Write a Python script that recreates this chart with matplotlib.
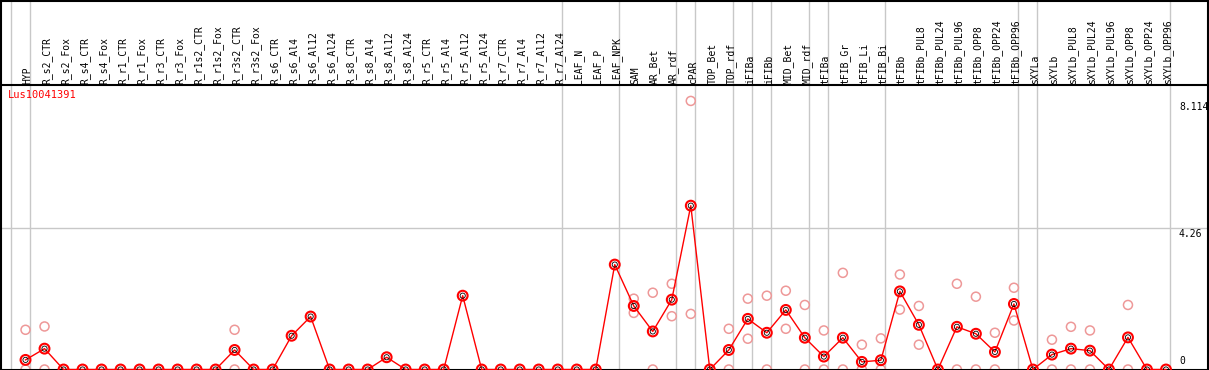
import numpy as np
import matplotlib
matplotlib.use("Agg")
import matplotlib.pyplot as plt

gene = "Lus10041391"

samples = ["HYP", "R_s2_CTR", "R_s2_Fox", "R_s4_CTR", "R_s4_Fox", "R_r1_CTR", "R_r1_Fox",
           "R_r3_CTR", "R_r3_Fox", "R_r1s2_CTR", "R_r1s2_Fox", "R_r3s2_CTR", "R_r3s2_Fox",
           "R_s6_CTR", "R_s6_Al4", "R_s6_Al12", "R_s6_Al24", "R_s8_CTR", "R_s8_Al4",
           "R_s8_Al12", "R_s8_Al24", "R_r5_CTR", "R_r5_Al4", "R_r5_Al12", "R_r5_Al24",
           "R_r7_CTR", "R_r7_Al4", "R_r7_Al12", "R_r7_Al24", "LEAF_N", "LEAF_P", "LEAF_NPK",
           "SAM", "AR_Bet", "AR_rdf", "cPAR", "TOP_Bet", "TOP_rdf", "iFIBa", "iFIBb",
           "MID_Bet", "MID_rdf", "tFIBa", "tFIB_Gr", "tFIB_Li", "tFIB_Bi", "tFIBb",
           "tFIBb_PUL8", "tFIBb_PUL24", "tFIBb_PUL96", "tFIBb_OPP8", "tFIBb_OPP24",
           "tFIBb_OPP96", "sXYLa", "sXYLb", "sXYLb_PUL8", "sXYLb_PUL24", "sXYLb_PUL96",
           "sXYLb_OPP8", "sXYLb_OPP24", "sXYLb_OPP96"]

# mean expression per sample
mean = [0.29, 0.63, 0, 0, 0, 0, 0, 0, 0, 0, 0, 0.59, 0,
        0, 1.02, 1.60, 0, 0, 0, 0.37, 0, 0, 0, 2.23, 0,
        0, 0, 0, 0, 0, 0, 3.17,
        1.92, 1.15, 2.11, 4.95, 0, 0.59, 1.53, 1.11,
        1.80, 0.96, 0.39, 0.96, 0.23, 0.28, 2.36,
        1.35, 0, 1.29, 1.08, 0.53, 1.98,
        0, 0.45, 0.63, 0.57, 0, 0.97, 0, 0]

# individual replicates (only those that show apart from the mean)
rep_sample = ["HYP", "HYP", "R_s2_CTR", "R_s2_CTR", "R_r3s2_CTR", "R_r3s2_CTR",
              "SAM", "SAM", "SAM", "AR_Bet", "AR_Bet", "AR_rdf", "AR_rdf",
              "cPAR", "cPAR", "TOP_rdf", "TOP_rdf", "iFIBa", "iFIBa", "iFIBb", "iFIBb",
              "MID_Bet", "MID_Bet", "MID_rdf", "MID_rdf", "tFIBa", "tFIBa",
              "tFIB_Gr", "tFIB_Gr", "tFIB_Li", "tFIB_Li", "tFIB_Bi", "tFIB_Bi",
              "tFIBb", "tFIBb", "tFIBb_PUL8", "tFIBb_PUL8", "tFIBb_PUL96", "tFIBb_PUL96",
              "tFIBb_OPP8", "tFIBb_OPP8", "tFIBb_OPP24", "tFIBb_OPP24",
              "tFIBb_OPP96", "tFIBb_OPP96", "sXYLb", "sXYLb", "sXYLb_PUL8", "sXYLb_PUL8",
              "sXYLb_PUL24", "sXYLb_PUL24", "sXYLb_OPP8", "sXYLb_OPP8"]
rep_value = [1.20, 0, 1.30, 0, 1.20, 0,
             2.14, 1.91, 1.71, 2.32, 0, 2.59, 1.61,
             8.114, 1.68, 1.23, 0, 2.14, 0.93, 2.23, 0,
             2.38, 1.23, 1.95, 0, 1.18, 0,
             2.92, 0, 0.75, 0, 0.94, 0,
             2.87, 1.81, 1.92, 0.75, 2.59, 0,
             2.20, 0, 1.11, 0,
             2.47, 1.48, 0.90, 0, 1.29, 0,
             1.18, 0, 1.95, 0]

# a grey separator follows each of these samples
group_ends = ["", "HYP", "R_r7_Al24", "LEAF_NPK", "AR_rdf", "cPAR", "TOP_rdf", "iFIBa",
              "iFIBb", "MID_rdf", "tFIBa", "tFIB_Bi", "tFIBb_OPP96", "sXYLa", "sXYLb_OPP96"]

y_ticks = [0, 4.26, 8.114]
y_tick_labels = ["0", "4.26", "8.114"]

# layout (pixels of the 1209x370 output)
W, H = 1209, 370
PX_UNIT = 33.1          # pixels per expression unit
HEADER = 85             # header height in pixels
BASE = 369              # pixel row of value 0
STEP = 19               # pixels between samples
X0 = 26                 # pixel column of first sample

fig = plt.figure(figsize=(W / 100, H / 100), dpi=100)
ax = fig.add_axes([0.5 / W, (H - BASE) / H - 0.5 / H, (W - 1.5) / W, BASE / H])

pos = {s: i + 1 for i, s in enumerate(samples)}
x = np.arange(1, len(samples) + 1)

ytop = BASE / PX_UNIT
yhead = (BASE - HEADER) / PX_UNIT
ax.set_xlim((1 - X0) / STEP + 1, (W - 1 - X0) / STEP + 1)
ax.set_ylim(0, ytop)

mono = "DejaVu Sans Mono"
grid = "#c8c8c8"

for s in group_ends:
    xv = (pos[s] if s else 0) + 4.5 / STEP
    ax.axvline(xv, color=grid, lw=1, zorder=1)
ax.axhline(y_ticks[1], color=grid, lw=1, zorder=1)
ax.axhline(yhead, color="black", lw=1.5, zorder=3)

# replicates
rx = [pos[s] for s in rep_sample]
ax.scatter(rx, rep_value, s=42, facecolors="none", edgecolors="#ee9898", linewidths=1.1, zorder=2)

# mean line
ax.plot(x, mean, color="red", lw=1, zorder=4)
ax.scatter(x, mean, s=50, facecolors="none", edgecolors="red", linewidths=1.5, zorder=5)
ax.scatter(x, mean, s=14, facecolors="none", edgecolors="black", linewidths=0.6, zorder=6)

# sample labels in header
for s in samples:
    ax.text(pos[s] + 2 / STEP, yhead + 2 / PX_UNIT, s, rotation=90, ha="center", va="bottom",
            fontsize=7, family=mono, color="black")

# value labels on the right
lx = (1179 - X0) / STEP + 1
for v, t in zip(y_ticks, y_tick_labels):
    if v == 0:
        ax.text(lx, v + 4 / PX_UNIT, t, ha="left", va="bottom", fontsize=7, family=mono)
    else:
        ax.text(lx, v - 1 / PX_UNIT, t, ha="left", va="top", fontsize=7, family=mono)

ax.text((8 - X0) / STEP + 1, yhead - 5 / PX_UNIT, gene, ha="left", va="top",
        fontsize=7.5, family=mono, color="red")

ax.set_xticks([])
ax.set_yticks([])
for sp in ax.spines.values():
    sp.set_color("black")
    sp.set_linewidth(1.5)

fig.savefig("out.png", dpi=100)
